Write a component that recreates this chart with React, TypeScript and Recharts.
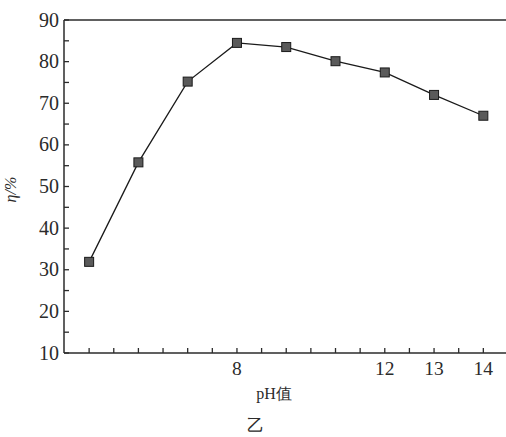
import { LineChart, Line, XAxis, YAxis, ReferenceLine, Label } from "recharts"

// pH positions (evenly spaced in the figure) and removal efficiency η (%)
const phIndex = [0, 1, 2, 3, 4, 5, 6, 7, 8]
const eta = [31.9, 55.8, 75.2, 84.5, 83.5, 80.1, 77.4, 72.0, 67.0]
// labels printed under the x axis at the given index
const xLabels: Record<string, string> = { "3": "8", "6": "12", "7": "13", "8": "14" }
const xTicks = [0, 0.5, 1, 1.5, 2, 2.5, 3, 3.5, 4, 4.5, 5, 5.5, 6, 6.5, 7, 7.5, 8]
const yTicks = [10, 15, 20, 25, 30, 35, 40, 45, 50, 55, 60, 65, 70, 75, 80, 85, 90]

const data = phIndex.map((x, i) => ({ x, eta: eta[i] }))

const INK = "#2b2b2b"
const FONT = "'Liberation Serif', 'Times New Roman', serif"

const XTick = (props: any) => {
  const { x, y, payload } = props
  const lab = xLabels[String(payload.value)]
  return (
    <g>
      <line x1={x} x2={x} y1={y} y2={y - 5} stroke={INK} strokeWidth={1.3} />
      {lab && (
        <text x={x} y={y + 22} textAnchor="middle" fontSize={19.5} fontFamily={FONT} fill={INK}>
          {lab}
        </text>
      )}
    </g>
  )
}

const YTick = (props: any) => {
  const { x, y, payload } = props
  const major = payload.value % 10 === 0
  return (
    <g>
      <line x1={x} x2={x + 5} y1={y} y2={y} stroke={INK} strokeWidth={1.3} />
      {major && (
        <text x={x - 5} y={y + 6.5} textAnchor="end" fontSize={20} fontFamily={FONT} fill={INK}>
          {payload.value}
        </text>
      )}
    </g>
  )
}

const SquareDot = (props: any) => {
  const { cx, cy } = props
  return <rect x={cx - 4.5} y={cy - 4.5} width={9} height={9} fill="#5a5a5a" stroke="#1a1a1a" strokeWidth={1} />
}

export default function App() {
  return (
    <div style={{ position: "absolute", left: 0, top: 0, background: "#fff" }}>
      <LineChart width={506} height={437} data={data} margin={{ top: 20, right: 0, bottom: 0, left: 0 }}>
        <XAxis
          dataKey="x"
          type="number"
          domain={[-0.51, 8.46]}
          ticks={xTicks}
          interval={0}
          tickSize={0}
          tickMargin={0}
          tick={<XTick />}
          height={84}
          axisLine={{ stroke: INK, strokeWidth: 1.5 }}
          allowDataOverflow
        >
          <Label value="pH值" position="insideBottom" offset={38} fontSize={16} fontFamily={FONT} fill={INK} dx={-11} />
          <Label value="乙" position="insideBottom" offset={6} fontSize={17} fontFamily={FONT} fill={INK} dx={-30} />
        </XAxis>
        <YAxis
          type="number"
          domain={[10, 90]}
          ticks={yTicks}
          interval={0}
          tickSize={0}
          tickMargin={0}
          tick={<YTick />}
          width={64}
          axisLine={{ stroke: INK, strokeWidth: 1.5 }}
        >
          <Label value="η/%" angle={-90} position="insideLeft" offset={10} dy={16} fontSize={16} fontStyle="italic" fontFamily={FONT} fill={INK} />
        </YAxis>
        <ReferenceLine y={90} stroke={INK} strokeWidth={1.5} />
        <Line
          dataKey="eta"
          stroke="#1a1a1a"
          strokeWidth={1.3}
          dot={<SquareDot />}
          activeDot={false}
          isAnimationActive={false}
        />
      </LineChart>
    </div>
  )
}
